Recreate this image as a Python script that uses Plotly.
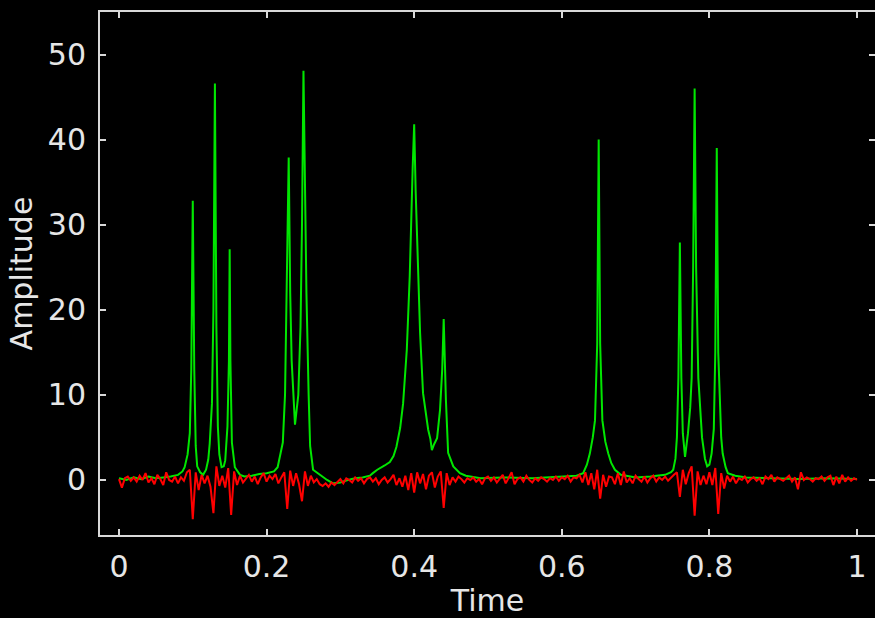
import plotly.graph_objects as go

# ---- data ----
red_step = 0.004
red_y = [
    0.1, -0.9, 0.2, 0.4, -0.1, 0.3, -0.2, 0.5, 0.0, 0.8,
    -0.3, 0.2, -0.5, 0.6, 0.1, -0.6, 0.9, 0.0, -0.2, 0.4,
    -0.4, 0.3, -0.1, 0.9, 1.2, -4.6, 0.9, -1.2, 0.6, -0.4,
    0.5, -0.8, -3.9, 1.6, -0.7, 0.5, -0.9, 1.4, -4.1, 1.0,
    -0.6, 0.5, -0.3, 0.2, 0.6, -0.2, 0.4, -0.5, 0.3, 0.8,
    -0.2, 0.5, 0.1, 0.7, -0.4, 0.3, 0.9, -3.4, 1.1, -0.7,
    0.8, -0.5, -2.5, 1.0, -0.7, 0.5, -0.3, 0.1, -0.5, -0.7,
    -0.4, -0.8, -0.3, -0.6, -0.2, 0.1, -0.4, 0.2, 0.0, -0.3,
    0.3, -0.1, 0.2, -0.4, 0.1, 0.3, -0.2, 0.2, -0.5, 0.0,
    0.3, -0.3, 0.1, 0.6, -0.6, 0.2, -0.8, 0.5, -1.2, 0.8,
    -1.5, 0.9, -0.4, 0.7, -1.1, 0.5, 0.9, -0.9, 0.4, 1.0,
    -3.3, 0.8, -0.6, 0.3, -0.2, 0.4, 0.1, -0.3, 0.2, 0.0,
    0.3, -0.2, 0.1, -0.5, 0.2, 0.4, -0.1, 0.3, -0.3, 0.1,
    0.6, -0.4, 0.2, 0.9, -0.5, 0.1, 0.3, -0.2, 0.5, 0.0,
    -0.3, 0.2, -0.1, 0.3, 0.1, -0.2, 0.2, 0.0, 0.4, -0.1,
    0.3, 0.1, 0.5, -0.2, 0.3, 0.2, 0.6, -0.3, 0.9, -0.6,
    0.8, -1.1, 1.2, -2.2, 0.6, -0.8, 0.4, 0.3, -0.5, 0.8,
    -0.6, 1.0, -0.3, 0.2, -0.4, 0.5, 0.1, -0.2, 0.4, -0.3,
    0.2, 0.5, -0.2, 0.3, 0.0, 0.4, -0.1, 0.3, 0.6, 0.9,
    -2.0, 1.2, -0.5, 0.8, 1.6, -4.2, 1.0, -0.6, 0.5, -0.5,
    0.9, -0.6, 1.4, -4.0, 0.8, -1.0, 0.5, -0.2, 0.4, -0.4,
    0.2, 0.0, 0.4, -0.3, 0.1, 0.3, -0.1, 0.2, -0.5, 0.4,
    0.1, 0.6, -0.2, 0.3, 0.1, -0.1, 0.2, 0.5, -0.2, 0.3,
    -1.1, 0.9, 0.0, 0.3, 0.1, -0.2, 0.2, 0.1, 0.4, -0.1,
    0.3, 0.5, -0.6, 0.4, -0.4, 0.6, -0.2, 0.3, -0.1, 0.2,
    0.0,
]
red_t = [round(i * red_step, 4) for i in range(len(red_y))]

green_t = [
    0.000, 0.010, 0.020, 0.030, 0.040, 0.050, 0.060, 0.070, 0.080, 0.086,
    0.089, 0.093, 0.096, 0.098, 0.100, 0.102, 0.104, 0.106, 0.110, 0.114,
    0.118, 0.121, 0.123, 0.126, 0.128, 0.130, 0.132, 0.134, 0.136, 0.139,
    0.142, 0.144, 0.147, 0.149, 0.150, 0.151, 0.153, 0.157, 0.164, 0.170,
    0.180, 0.190, 0.200, 0.210, 0.215, 0.218, 0.222, 0.225, 0.227, 0.230,
    0.232, 0.234, 0.2385, 0.243, 0.246, 0.248, 0.250, 0.252, 0.254, 0.257,
    0.259, 0.263, 0.272, 0.282, 0.290, 0.300, 0.310, 0.320, 0.330, 0.340,
    0.344, 0.350, 0.360, 0.367, 0.372, 0.376, 0.381, 0.385, 0.390, 0.394,
    0.398, 0.400, 0.402, 0.404, 0.408, 0.412, 0.416, 0.419, 0.422, 0.424,
    0.427, 0.431, 0.435, 0.438, 0.440, 0.443, 0.446, 0.450, 0.453, 0.462,
    0.470, 0.490, 0.520, 0.560, 0.600, 0.620, 0.629, 0.634, 0.638, 0.642,
    0.645, 0.648, 0.650, 0.652, 0.655, 0.659, 0.663, 0.667, 0.672, 0.680,
    0.700, 0.720, 0.740, 0.748, 0.751, 0.754, 0.756, 0.758, 0.760, 0.762,
    0.764, 0.767, 0.771, 0.774, 0.776, 0.778, 0.780, 0.782, 0.785, 0.790,
    0.794, 0.797, 0.800, 0.803, 0.806, 0.808, 0.810, 0.812, 0.814, 0.816,
    0.818, 0.822, 0.825, 0.835, 0.850, 0.880, 0.920, 0.960, 1.000,
]
green_y = [
    0.2, 0.0, 0.3, 0.1, 0.4, 0.2, 0.3, 0.4, 0.6, 1.0,
    1.5, 3.0, 5.5, 13.0, 32.8, 13.0, 4.0, 1.6, 0.9, 0.6,
    1.2, 2.4, 4.3, 9.0, 20.0, 46.6, 18.0, 6.3, 3.0, 1.5,
    1.6, 2.3, 6.3, 14.0, 27.1, 14.0, 4.4, 1.5, 0.6, 0.4,
    0.5, 0.7, 0.8, 1.0, 1.5, 2.7, 4.4, 10.0, 22.0, 37.9,
    22.0, 14.0, 6.5, 10.0, 18.0, 30.0, 48.1, 35.0, 22.0, 10.0,
    4.0, 1.2, 0.6, 0.0, -0.4, -0.3, 0.0, 0.2, 0.3, 0.5,
    0.8, 1.2, 1.7, 2.1, 2.8, 3.9, 6.1, 9.0, 15.3, 24.0,
    36.8, 41.8, 34.0, 29.0, 17.3, 10.2, 7.5, 5.9, 4.8, 3.5,
    4.2, 4.9, 8.2, 13.0, 18.9, 9.4, 3.2, 2.4, 1.6, 0.8,
    0.5, 0.2, 0.3, 0.2, 0.4, 0.5, 0.8, 1.8, 3.1, 5.0,
    7.0, 16.0, 40.0, 16.0, 7.0, 4.5, 3.1, 2.0, 1.2, 0.6,
    0.3, 0.4, 0.6, 0.9, 1.2, 2.5, 5.0, 12.0, 27.9, 12.0,
    5.5, 2.7, 5.5, 8.5, 12.0, 25.0, 46.0, 25.0, 12.0, 5.0,
    2.5, 1.6, 1.8, 3.1, 6.0, 15.0, 39.0, 15.0, 10.0, 5.0,
    3.1, 1.5, 0.8, 0.5, 0.3, 0.2, 0.1, 0.2, 0.1,
]

x_tickvals = [0, 0.2, 0.4, 0.6, 0.8, 1]
x_ticktext = ["0", "0.2", "0.4", "0.6", "0.8", "1"]
y_tickvals = [0, 10, 20, 30, 40, 50]
y_ticktext = ["0", "10", "20", "30", "40", "50"]

x_range = [-0.0257, 1.0244]
y_range = [-6.47, 55.0]

AX = "#d9d9d9"
TXT = "#e6e6e6"
FONT = "DejaVu Sans"

fig = go.Figure()
fig.add_trace(go.Scatter(x=green_t, y=green_y, mode="lines",
                         line=dict(color="#00e600", width=2), hoverinfo="skip"))
fig.add_trace(go.Scatter(x=red_t, y=red_y, mode="lines",
                         line=dict(color="#ff0000", width=2), hoverinfo="skip"))
# helper trace to carry the right-hand tick axis
fig.add_trace(go.Scatter(x=[x_range[0]], y=[y_range[0]], yaxis="y2", mode="markers",
                         marker=dict(opacity=0), hoverinfo="skip"))

fig.update_layout(
    width=875, height=618,
    paper_bgcolor="black", plot_bgcolor="black",
    margin=dict(l=100, r=0, t=12, b=83),
    showlegend=False,
    font=dict(family=FONT, color=TXT, size=30),
    xaxis=dict(
        range=x_range, tickvals=x_tickvals, ticktext=x_ticktext,
        ticks="inside", ticklen=6, tickwidth=2, tickcolor=AX,
        showline=True, linecolor=AX, linewidth=2, mirror="ticks",
        showgrid=False, zeroline=False,
        tickfont=dict(family=FONT, size=30, color=TXT),
        ticklabelstandoff=4,
        title=dict(text="Time", font=dict(family=FONT, size=30, color=TXT), standoff=11),
    ),
    yaxis=dict(
        range=y_range, tickvals=y_tickvals, ticktext=y_ticktext,
        ticks="inside", ticklen=6, tickwidth=2, tickcolor=AX,
        showline=True, linecolor=AX, linewidth=2, mirror=False,
        showgrid=False, zeroline=False,
        tickfont=dict(family=FONT, size=30, color=TXT),
        ticklabelstandoff=6,
        title=dict(text="Amplitude", font=dict(family=FONT, size=30, color=TXT), standoff=6),
    ),
    yaxis2=dict(
        range=y_range, tickvals=y_tickvals, overlaying="y", side="right",
        ticks="inside", ticklen=6, tickwidth=2, tickcolor=AX,
        showline=False, showgrid=False, zeroline=False, showticklabels=False,
    ),
)

fig.write_html("out.html")
